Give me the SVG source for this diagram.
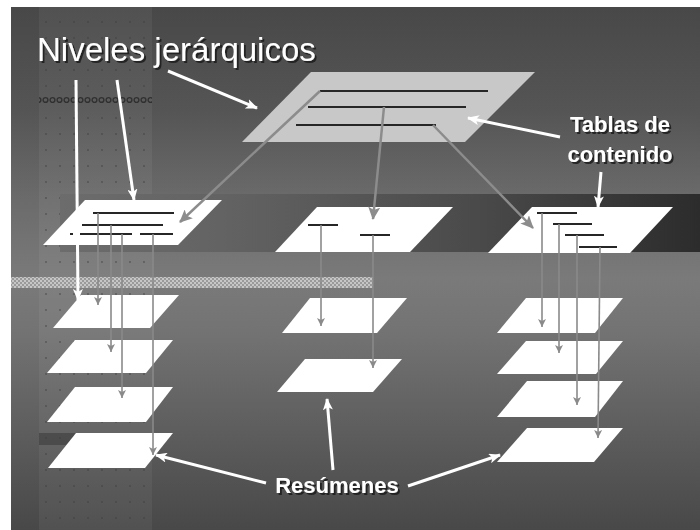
<svg xmlns="http://www.w3.org/2000/svg" width="700" height="530" viewBox="0 0 700 530">
<defs>
  <linearGradient id="bg" x1="0" y1="0" x2="0" y2="1">
    <stop offset="0" stop-color="#484848"/>
    <stop offset="0.2" stop-color="#555555"/>
    <stop offset="0.36" stop-color="#6a6a6a"/>
    <stop offset="0.52" stop-color="#7a7a7a"/>
    <stop offset="0.62" stop-color="#737373"/>
    <stop offset="1" stop-color="#484848"/>
  </linearGradient>
  <linearGradient id="band" x1="0" y1="0" x2="1" y2="0">
    <stop offset="0" stop-color="#6c6c6c"/>
    <stop offset="0.25" stop-color="#636363"/>
    <stop offset="0.65" stop-color="#4a4a4a"/>
    <stop offset="1" stop-color="#2c2c2c"/>
  </linearGradient>
  <pattern id="checker" width="4" height="4" patternUnits="userSpaceOnUse">
    <rect width="4" height="4" fill="#9a9a9a"/>
    <rect width="2" height="2" fill="#c6c6c6"/>
    <rect x="2" y="2" width="2" height="2" fill="#c6c6c6"/>
  </pattern>
  <pattern id="dots" width="14" height="16" patternUnits="userSpaceOnUse">
    <circle cx="4" cy="6" r="0.9" fill="#3c3c3c" opacity="0.6"/>
  </pattern>
  <pattern id="rings" width="7" height="8" patternUnits="userSpaceOnUse">
    <circle cx="3.5" cy="4" r="2.4" fill="none" stroke="#303030" stroke-width="1.4"/>
  </pattern>
  <marker id="gBig" markerUnits="userSpaceOnUse" markerWidth="14" markerHeight="12" refX="12" refY="6" orient="auto">
    <path d="M0,0 L13,6 L0,12 L3,6 z" fill="#8c8c8c"/>
  </marker>
  <marker id="gSmall" markerUnits="userSpaceOnUse" markerWidth="9" markerHeight="8" refX="8" refY="4" orient="auto">
    <path d="M0,0 L8,4 L0,8 L2,4 z" fill="#8a8a8a"/>
  </marker>
  <marker id="wArr" markerUnits="userSpaceOnUse" markerWidth="12" markerHeight="10" refX="11" refY="5" orient="auto">
    <path d="M0,0 L12,5 L0,10 L3,5 z" fill="#ffffff"/>
  </marker>
  <filter id="shadow" x="-5%" y="-20%" width="115%" height="150%">
    <feDropShadow dx="2" dy="2" stdDeviation="0.6" flood-color="#1a1a1a" flood-opacity="0.9"/>
  </filter>
  <style>
    .lvl { fill: #ffffff; }
    .top { fill: #c8c8c8; }
    .bar { stroke: #262626; stroke-width: 2; fill: none; }
    .conn { stroke: #8c8c8c; stroke-width: 2.5; fill: none; marker-end: url(#gBig); }
    .vconn { stroke: #8a8a8a; stroke-width: 1.6; fill: none; marker-end: url(#gSmall); }
    .warr { stroke: #ffffff; stroke-width: 3; fill: none; marker-end: url(#wArr); }
    .lbl { font-family: "Liberation Sans", Arial, sans-serif; fill: #ffffff; filter: url(#shadow); }
  </style>
</defs>

<!-- background -->
<rect x="0" y="0" width="700" height="530" fill="#ffffff"/>
<rect x="11" y="7" width="689" height="523" fill="url(#bg)"/>
<rect x="39" y="7" width="113" height="523" fill="#ffffff" opacity="0.05"/>
<rect x="39" y="7" width="113" height="523" fill="url(#dots)"/>
<rect x="39" y="96" width="113" height="8" fill="url(#rings)"/>
<rect x="39" y="433" width="38" height="12" fill="#3c3c3c" opacity="0.6"/>
<rect x="60" y="194" width="640" height="58" fill="url(#band)"/>
<rect x="11" y="277" width="362" height="11" fill="url(#checker)"/>

<!-- top table of contents -->
<g id="toc-top">
  <polygon class="top" points="311,72 535,72 465,142 242,142"/>
  <line class="bar" x1="320" y1="91" x2="488" y2="91"/>
  <line class="bar" x1="308" y1="107" x2="466" y2="107"/>
  <line class="bar" x1="296" y1="125" x2="436" y2="125"/>
</g>

<!-- second level tables -->
<g id="toc-left">
  <polygon class="lvl" points="85,200 222,200 178,245 43,245"/>
  <line class="bar" x1="93" y1="213" x2="174" y2="213"/>
  <line class="bar" x1="82" y1="225" x2="163" y2="225"/>
  <line class="bar" x1="70" y1="234" x2="73" y2="234"/>
  <line class="bar" x1="80" y1="234" x2="132" y2="234"/>
  <line class="bar" x1="140" y1="234" x2="173" y2="234"/>
</g>
<g id="toc-mid">
  <polygon class="lvl" points="317,207 453,207 410,252 275,252"/>
  <line class="bar" x1="308" y1="225" x2="338" y2="225"/>
  <line class="bar" x1="360" y1="235" x2="390" y2="235"/>
</g>
<g id="toc-right">
  <polygon class="lvl" points="532,207 673,207 630,253 488,253"/>
  <line class="bar" x1="537" y1="213" x2="577" y2="213"/>
  <line class="bar" x1="553" y1="224" x2="592" y2="224"/>
  <line class="bar" x1="565" y1="235" x2="604" y2="235"/>
  <line class="bar" x1="579" y1="247" x2="617" y2="247"/>
</g>

<!-- summaries -->
<g id="sum-l1"><polygon class="lvl" points="81,295 179,295 150,328 53,328"/></g>
<g id="sum-l2"><polygon class="lvl" points="75,340 173,340 146,373 47,373"/></g>
<g id="sum-l3"><polygon class="lvl" points="75,387 173,387 146,422 47,422"/></g>
<g id="sum-l4"><polygon class="lvl" points="76,433 173,433 145,468 48,468"/></g>
<g id="sum-m1"><polygon class="lvl" points="310,298 407,298 377,333 282,333"/></g>
<g id="sum-m2"><polygon class="lvl" points="305,359 402,359 373,392 277,392"/></g>
<g id="sum-r1"><polygon class="lvl" points="526,298 623,298 595,333 497,333"/></g>
<g id="sum-r2"><polygon class="lvl" points="526,341 623,341 596,374 497,374"/></g>
<g id="sum-r3"><polygon class="lvl" points="527,381 623,381 595,417 497,417"/></g>
<g id="sum-r4"><polygon class="lvl" points="527,428 623,428 594,462 497,462"/></g>

<!-- connectors -->
<g id="connectors">
  <line class="conn" x1="320" y1="91" x2="180" y2="222"/>
  <line class="conn" x1="384" y1="107" x2="373" y2="219"/>
  <line class="conn" x1="433" y1="125" x2="533" y2="228"/>
  <line class="vconn" x1="98" y1="213" x2="98" y2="305"/>
  <line class="vconn" x1="111" y1="225" x2="111" y2="352"/>
  <line class="vconn" x1="122" y1="234" x2="122" y2="398"/>
  <line class="vconn" x1="153" y1="234" x2="153" y2="455"/>
  <line class="vconn" x1="321" y1="225" x2="321" y2="326"/>
  <line class="vconn" x1="373" y1="235" x2="373" y2="368"/>
  <line class="vconn" x1="542" y1="213" x2="542" y2="327"/>
  <line class="vconn" x1="559" y1="224" x2="559" y2="353"/>
  <line class="vconn" x1="577" y1="235" x2="577" y2="405"/>
  <line class="vconn" x1="600" y1="247" x2="598" y2="438"/>
</g>

<!-- label pointers -->
<g id="pointers">
  <line class="warr" x1="76" y1="80" x2="78" y2="300"/>
  <line class="warr" x1="117" y1="80" x2="134" y2="200"/>
  <line class="warr" x1="168" y1="71" x2="257" y2="108"/>
  <line class="warr" x1="560" y1="137" x2="468" y2="118"/>
  <line class="warr" x1="601" y1="172" x2="598" y2="207"/>
  <line class="warr" x1="333" y1="470" x2="327" y2="399"/>
  <line class="warr" x1="266" y1="483" x2="156" y2="455"/>
  <line class="warr" x1="408" y1="486" x2="500" y2="455"/>
</g>

<!-- labels -->
<g id="label-niveles">
  <text class="lbl" x="37" y="61" font-size="33">Niveles jerárquicos</text>
</g>
<g id="label-tablas">
  <text class="lbl" x="620" y="132" font-size="22" font-weight="bold" text-anchor="middle">Tablas de</text>
  <text class="lbl" x="620" y="162" font-size="22" font-weight="bold" text-anchor="middle">contenido</text>
</g>
<g id="label-resumenes">
  <text class="lbl" x="337" y="493" font-size="22" font-weight="bold" text-anchor="middle">Resúmenes</text>
</g>
</svg>
